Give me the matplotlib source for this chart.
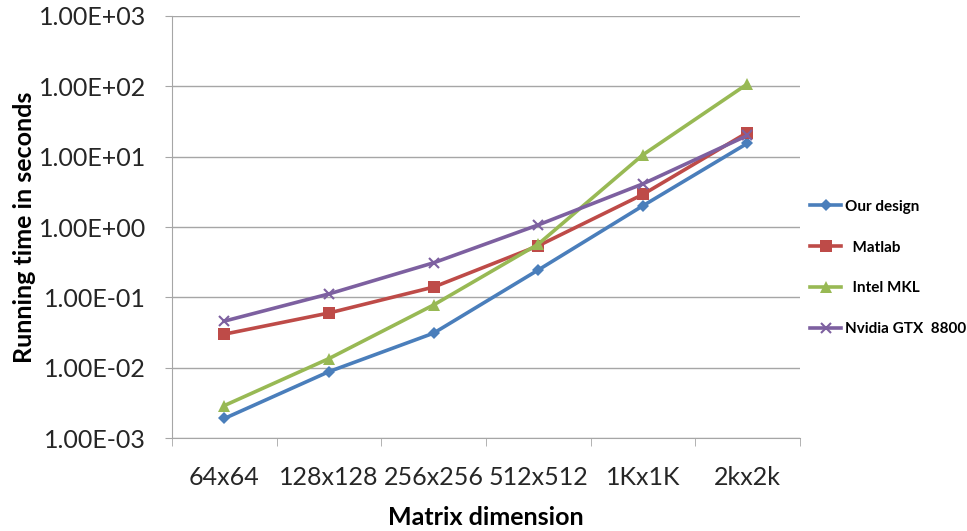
import numpy as np
import matplotlib.pyplot as plt
from matplotlib.ticker import FixedLocator, FuncFormatter

plt.rcParams['font.family'] = ['Lato', 'DejaVu Sans']

categories = ['64x64', '128x128', '256x256', '512x512', '1Kx1K', '2kx2k']
our_design = [0.0019, 0.0088, 0.031, 0.245, 2.0, 15.5]
matlab = [0.030, 0.060, 0.14, 0.54, 2.9, 22.0]
intel_mkl = [0.0029, 0.0135, 0.078, 0.57, 10.6, 108.0]
nvidia = [0.046, 0.112, 0.31, 1.07, 4.1, 20.0]

series = [
    ('Our design', our_design, '#4A7EBB', 'D', 6),
    ('  Matlab', matlab, '#BE4B48', 's', 8),
    ('  Intel MKL', intel_mkl, '#98B954', '^', 8),
    ('Nvidia GTX  8800', nvidia, '#7D60A0', 'x', 7),
]

fig = plt.figure(figsize=(9.67, 5.31), dpi=100)
ax = fig.add_axes([0.178, 0.175, 0.649, 0.795])

x = np.arange(len(categories))
for name, vals, col, mk, ms in series:
    ax.plot(x, vals, color=col, lw=2.6, marker=mk, ms=ms, mew=1.5 if mk == 'x' else 0,
            mec=col, mfc=col, label=name)

ax.set_yscale('log')
ax.set_ylim(1e-3, 1e3)
ax.set_xlim(-0.5, len(categories) - 0.5)
ax.yaxis.set_major_locator(FixedLocator([10.0 ** k for k in range(-3, 4)]))
ax.yaxis.set_minor_locator(FixedLocator([]))
ax.yaxis.set_major_formatter(FuncFormatter(lambda v, p: f'{v:.2E}'))
ax.grid(axis='y', color='#a6a6a6', lw=1.0)
ax.set_axisbelow(True)

ax.set_xticks(x)
ax.set_xticklabels(categories)
ax.set_xticks(np.arange(-0.5, len(categories)), minor=True)
ax.tick_params(axis='x', which='major', length=0, labelsize=18, pad=20, colors='#262626')
ax.tick_params(axis='x', which='minor', length=6, color='#a6a6a6', direction='out')
ax.tick_params(axis='y', which='major', length=5, color='#a6a6a6', labelsize=18,
               labelcolor='#262626', pad=14)

for s in ['top', 'right']:
    ax.spines[s].set_visible(False)
for s in ['left', 'bottom']:
    ax.spines[s].set_color('#a6a6a6')

ax.set_ylabel('Running time in seconds', fontsize=18, fontweight='bold', labelpad=2)
ax.set_xlabel('Matrix dimension', fontsize=18, fontweight='bold', labelpad=12)

leg = ax.legend(loc='center left', bbox_to_anchor=(0.995, 0.403), frameon=False,
                prop={'size': 11, 'weight': 'bold'}, labelspacing=1.75,
                handlelength=2.0, handletextpad=0.25)

fig.savefig('out.png', dpi=100)
